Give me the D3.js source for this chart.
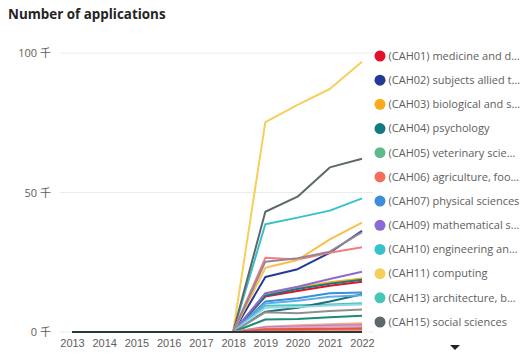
<!DOCTYPE html>
<html>
<head>
<meta charset="utf-8">
<script src="https://cdn.jsdelivr.net/npm/d3@7"></script>
<style>
  html, body { margin: 0; padding: 0; background: #ffffff; }
  svg { display: block; font-family: "Open Sans", "Noto Sans", sans-serif; }
</style>
</head>
<body>
<svg id="chart" width="526" height="364"></svg>
<script>
// ---------- data ----------
const years = [2013, 2014, 2015, 2016, 2017, 2018, 2019, 2020, 2021, 2022];
const yTicks = [0, 50, 100];
const seriesNames = [
  "(CAH01) medicine and dentistry",
  "(CAH02) subjects allied to medicine",
  "(CAH03) biological and sport sciences",
  "(CAH04) psychology",
  "(CAH05) veterinary sciences",
  "(CAH06) agriculture, food and related studies",
  "(CAH07) physical sciences",
  "(CAH09) mathematical sciences",
  "(CAH10) engineering and technology",
  "(CAH11) computing",
  "(CAH13) architecture, building and planning",
  "(CAH15) social sciences",
  "(CAH16) law",
  "(CAH17) business and management",
  "(CAH19) language and area studies",
  "(CAH20) historical, philosophical and religious studies",
  "(CAH21) creative arts and design",
  "(CAH22) education and teaching",
  "(CAH23) combined and general studies",
  "(CAH24) media, journalism and communications",
  "(CAH25) design, and creative and performing arts",
  "(CAH26) geography, earth and environmental studies",
  "(CAH14) other",
  "(CAH12) other",
  "(CAH08) other"
];
const seriesColors = [
  "#E3102C", "#213A95", "#FCAA1B", "#127A80", "#5DBB8B", "#F66E5B",
  "#3A8EDC", "#8A6BD6", "#37C1CB", "#F5CF5A", "#47C5B5", "#5E686A",
  "#F47E7E", "#FCBF4A", "#958598", "#1D6E76", "#5CB0E6", "#95D7E6",
  "#8E9090", "#1B8C75", "#F8AA88", "#B383C6", "#DDA6C8", "#E8553F", "#233B3B"
];
// values in thousands
const values = [
  [0, 0, 0, 0, 0, 0, 12.7, 14.7, 16.6, 18.0],
  [0, 0, 0, 0, 0, 0, 19.7, 22.5, 28.4, 36.3],
  [0, 0, 0, 0, 0, 0, 13.5, 15.9, 17.8, 19.2],
  [0, 0, 0, 0, 0, 0, 13.0, 15.4, 17.3, 18.7],
  [0, 0, 0, 0, 0, 0, 0.9, 1.0, 1.1, 1.2],
  [0, 0, 0, 0, 0, 0, 0.6, 0.7, 0.8, 0.8],
  [0, 0, 0, 0, 0, 0, 10.9, 12.1, 13.9, 14.2],
  [0, 0, 0, 0, 0, 0, 13.9, 16.2, 19.0, 21.6],
  [0, 0, 0, 0, 0, 0, 38.6, 41.0, 43.5, 47.9],
  [0, 0, 0, 0, 0, 0, 75.2, 81.4, 87.1, 96.9],
  [0, 0, 0, 0, 0, 0, 9.4, 9.6, 9.9, 10.3],
  [0, 0, 0, 0, 0, 0, 43.1, 48.5, 59.0, 62.1],
  [0, 0, 0, 0, 0, 0, 26.6, 26.0, 28.4, 30.4],
  [0, 0, 0, 0, 0, 0, 23.0, 25.8, 33.2, 39.2],
  [0, 0, 0, 0, 0, 0, 25.2, 26.4, 28.8, 35.8],
  [0, 0, 0, 0, 0, 0, 7.3, 8.7, 10.9, 13.5],
  [0, 0, 0, 0, 0, 0, 10.2, 11.2, 12.6, 13.2],
  [0, 0, 0, 0, 0, 0, 8.7, 9.0, 9.5, 9.9],
  [0, 0, 0, 0, 0, 0, 7.1, 6.7, 7.5, 8.1],
  [0, 0, 0, 0, 0, 0, 4.5, 4.7, 5.3, 5.8],
  [0, 0, 0, 0, 0, 0, 1.9, 2.4, 2.8, 3.1],
  [0, 0, 0, 0, 0, 0, 1.7, 2.0, 2.3, 2.5],
  [0, 0, 0, 0, 0, 0, 1.3, 1.6, 1.9, 2.1],
  [0, 0, 0, 0, 0, 0, 1.0, 1.1, 1.2, 1.3],
  [0, 0, 0, 0, 0, 0, 0, 0, 0, 0]
];
const legendCount = 12;

// ---------- chart ----------
const svg = d3.select("#chart");
const textColor = "#605E5C";

svg.append("text")
  .attr("x", 8).attr("y", 19)
  .attr("font-size", 13.4).attr("font-weight", 700)
  .attr("fill", "#252423")
  .text("Number of applications");

const x = d3.scaleLinear().domain([2013, 2022]).range([72, 362]);
const y = d3.scaleLinear().domain([0, 100]).range([332, 53]);

// gridlines
svg.append("g")
  .selectAll("line")
  .data(yTicks)
  .join("line")
  .attr("x1", 60).attr("x2", 373)
  .attr("y1", d => y(d)).attr("y2", d => y(d))
  .attr("stroke", "#EAEAEA").attr("stroke-width", 1);

// y axis
const yAxis = svg.append("g")
  .attr("transform", "translate(51,0)")
  .call(d3.axisLeft(y).tickValues(yTicks).tickSize(0).tickPadding(0).tickFormat(d => d + " 千"));
yAxis.select(".domain").remove();
yAxis.selectAll("text").attr("fill", textColor).attr("font-size", 11)
  .attr("font-family", "Open Sans, Noto Sans CJK SC, sans-serif");

// x axis
const xAxis = svg.append("g")
  .attr("transform", "translate(0,339)")
  .call(d3.axisBottom(x).tickValues(years).tickSize(0).tickPadding(0).tickFormat(d3.format("d")));
xAxis.select(".domain").remove();
xAxis.selectAll("text").attr("fill", textColor).attr("font-size", 11).attr("dy", "0.71em");

// lines
const line = d3.line().x((d, i) => x(years[i])).y(d => y(d));
svg.append("g")
  .selectAll("path")
  .data(values)
  .join("path")
  .attr("d", d => line(d))
  .attr("fill", "none")
  .attr("stroke", (d, i) => seriesColors[i])
  .attr("stroke-width", 2)
  .attr("stroke-linejoin", "round")
  .attr("stroke-linecap", "butt");

// legend
const legendY = d3.scaleLinear().domain([0, legendCount - 1]).range([56, 322]);
const lg = svg.append("g");
const items = lg.selectAll("g")
  .data(seriesNames.slice(0, legendCount))
  .join("g")
  .attr("transform", (d, i) => `translate(380,${legendY(i)})`);
items.append("circle").attr("r", 5.5).attr("fill", (d, i) => seriesColors[i]);
items.append("text")
  .attr("x", 8.5).attr("dy", "0.35em")
  .attr("font-size", 11).attr("fill", textColor)
  .text(d => d)
  .each(function (d) {
    const el = d3.select(this);
    const maxW = 133;
    if (this.getComputedTextLength() > maxW) {
      let s = d;
      while (s.length > 1) {
        s = s.slice(0, -1);
        el.text(s.trimEnd() + "…");
        if (this.getComputedTextLength() <= maxW) break;
      }
    }
  });

// legend scroll arrow
svg.append("path")
  .attr("d", "M450,345 L460,345 L455,350 Z")
  .attr("fill", "#252423");
</script>
</body>
</html>
